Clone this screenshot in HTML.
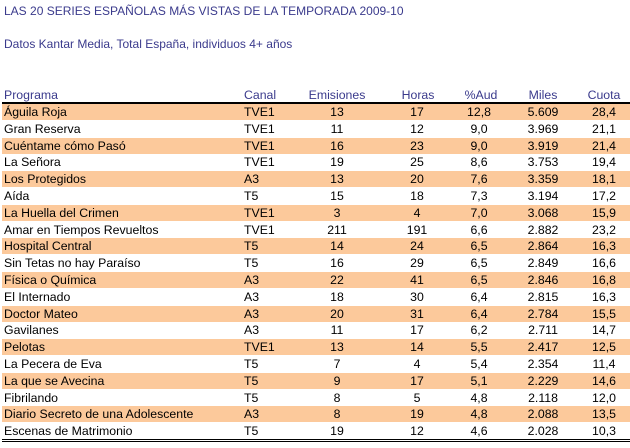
<!DOCTYPE html>
<html><head><meta charset="utf-8">
<style>
html,body{margin:0;padding:0;background:#fff;}
body{width:630px;height:448px;position:relative;overflow:hidden;font-family:"Liberation Sans",sans-serif;}
.t{position:absolute;white-space:nowrap;}
.title{left:4px;top:4px;font-size:12px;color:#3a3a8c;}
.sub{left:4px;top:37px;font-size:12px;color:#3a3a8c;}
.h{top:88px;font-size:12.3px;color:#3a3a8c;}
.row{position:absolute;left:2px;width:628px;height:16px;}
.c{position:absolute;top:1px;font-size:12.3px;color:#000;white-space:nowrap;}
.ctr{transform:translateX(-50%);}
</style></head><body>
<div class="t title">LAS 20 SERIES ESPAÑOLAS MÁS VISTAS DE LA TEMPORADA 2009-10</div>
<div class="t sub">Datos Kantar Media, Total España, individuos 4+ años</div>
<div class="t h" style="left:4px">Programa</div>
<div class="t h" style="left:244px">Canal</div>
<div class="t h ctr" style="left:337px">Emisiones</div>
<div class="t h ctr" style="left:418px">Horas</div>
<div class="t h ctr" style="left:481px">%Aud</div>
<div class="t h ctr" style="left:543px">Miles</div>
<div class="t h ctr" style="left:604px">Cuota</div>
<div style="position:absolute;left:2px;top:102px;width:628px;height:2px;background:#000"></div>
<div id="rows"></div>
<div style="position:absolute;left:2px;top:439px;width:628px;height:1px;background:#000"></div>
<div style="position:absolute;left:2px;top:441px;width:628px;height:1px;background:#000"></div>
<script>
const programas=["Águila Roja","Gran Reserva","Cuéntame cómo Pasó","La Señora","Los Protegidos","Aída","La Huella del Crimen","Amar en Tiempos Revueltos","Hospital Central","Sin Tetas no hay Paraíso","Física o Química","El Internado","Doctor Mateo","Gavilanes","Pelotas","La Pecera de Eva","La que se Avecina","Fibrilando","Diario Secreto de una Adolescente","Escenas de Matrimonio"];
const canales=["TVE1","TVE1","TVE1","TVE1","A3","T5","TVE1","TVE1","T5","T5","A3","A3","A3","A3","TVE1","T5","T5","T5","A3","T5"];
const emisiones=[13,11,16,19,13,15,3,211,14,16,22,18,20,11,13,7,9,8,8,19];
const horas=[17,12,23,25,20,18,4,191,24,29,41,30,31,17,14,4,17,5,19,12];
const aud=["12,8","9,0","9,0","8,6","7,6","7,3","7,0","6,6","6,5","6,5","6,5","6,4","6,4","6,2","5,5","5,4","5,1","4,8","4,8","4,6"];
const miles=["5.609","3.969","3.919","3.753","3.359","3.194","3.068","2.882","2.864","2.849","2.846","2.815","2.784","2.711","2.417","2.354","2.229","2.118","2.088","2.028"];
const cuota=["28,4","21,1","21,4","19,4","18,1","17,2","15,9","23,2","16,3","16,6","16,8","16,3","15,5","14,7","12,5","11,4","14,6","12,0","13,5","10,3"];
const wrap=document.getElementById('rows');
const top0=104, rh=16.8;
programas.forEach((p,i)=>{
  const r=document.createElement('div');
  r.className='row';
  
  
  r.style.top=(top0+i*rh)+'px';
  if(i%2===0) r.style.background='#fcc99b';
  const cells=[[p,2,false],[canales[i],242,false],[String(emisiones[i]),335,true],[String(horas[i]),415,true],[aud[i],477,true],[miles[i],541,true],[cuota[i],602,true]];
  const names=['cell-programa','cell-canal','cell-emisiones','cell-horas','cell-aud','cell-miles','cell-cuota'];
  cells.forEach((c,j)=>{
    const s=document.createElement('div');
    s.className='c'+(c[2]?' ctr':'');
    
    
    s.style.left=c[1]+'px';
    s.textContent=c[0];
    r.appendChild(s);
  });
  wrap.appendChild(r);
});
</script>
</body></html>
